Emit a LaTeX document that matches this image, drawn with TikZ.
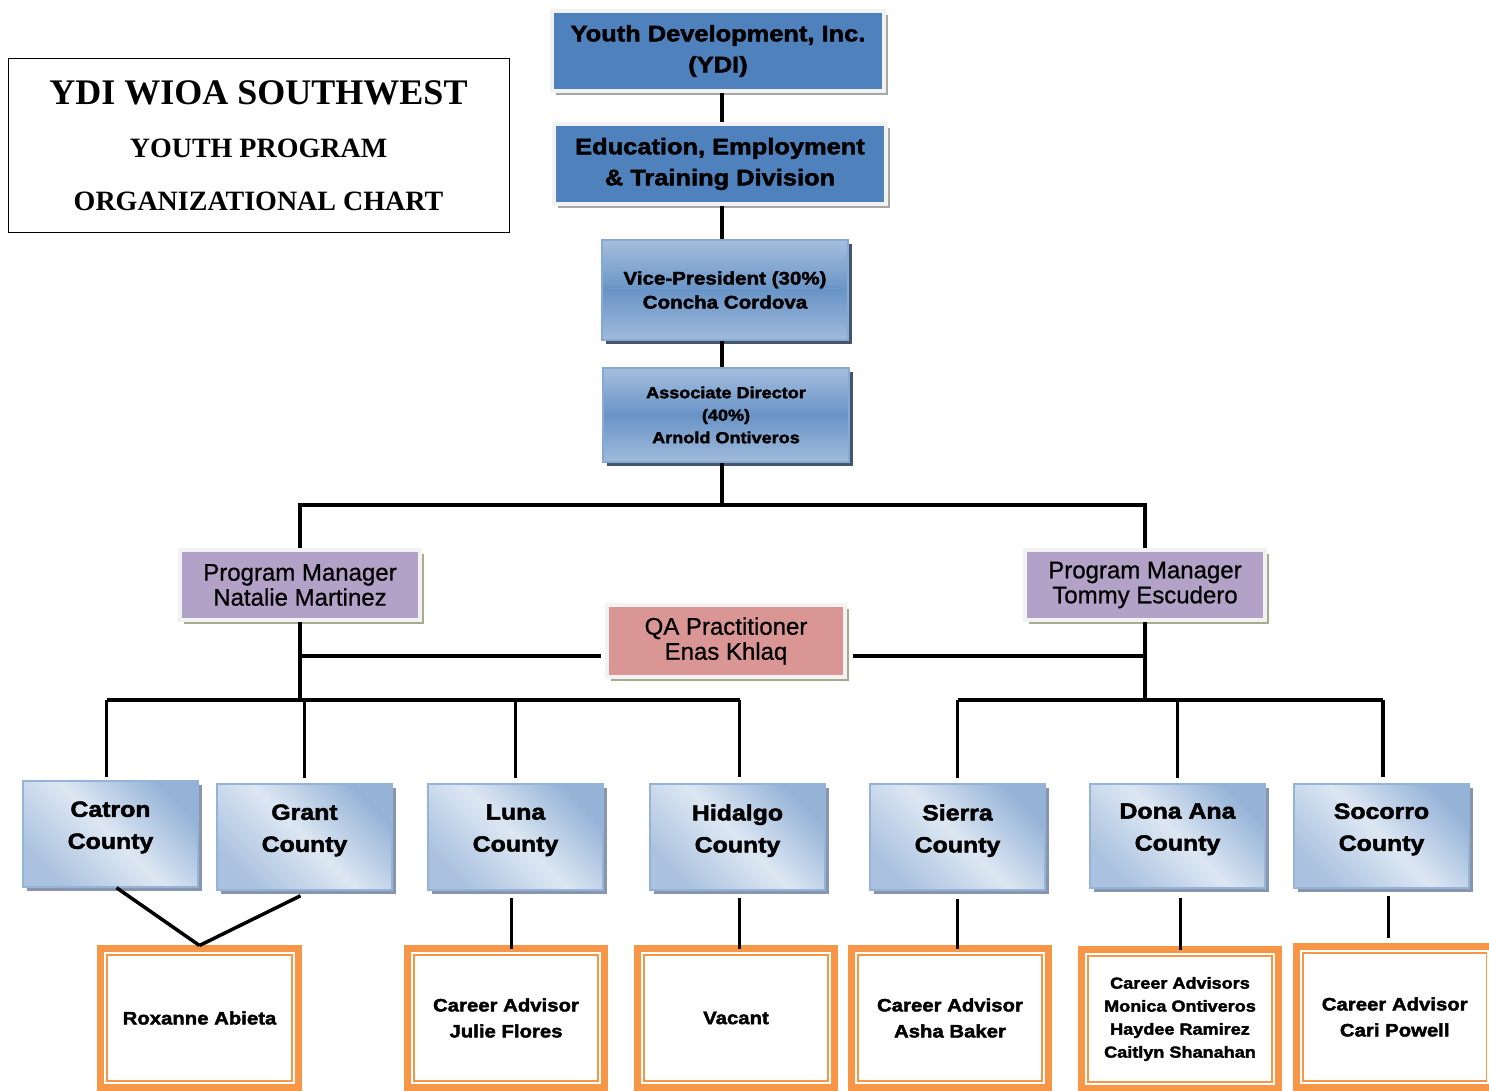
\documentclass[tikz,border=0pt]{standalone}
\usepackage{fontspec}
\setmainfont{Liberation Sans}
\newfontfamily\blk[FakeStretch=1.13,FakeBold=2.2]{Liberation Sans Bold}
\newfontfamily\pmf[FakeBold=0.8]{Liberation Sans}
\newfontfamily\tms{Liberation Serif}
\usetikzlibrary{shadows,calc}
\definecolor{ydiblue}{HTML}{4F81BD}
\definecolor{lblue}{HTML}{95B3D7}
\definecolor{vlblue}{HTML}{DDE7F3}
\definecolor{purp}{HTML}{B2A2C7}
\definecolor{pinkc}{HTML}{D99694}
\definecolor{orgc}{HTML}{F79646}
\definecolor{shadc}{HTML}{8796AC}
\definecolor{darkshad}{HTML}{44556E}
\definecolor{greenshad}{HTML}{A7AC90}
\definecolor{frame}{HTML}{F2F2F2}
\begin{document}
\begin{tikzpicture}[x=1pt,y=-1pt,
  conn/.style={line width=3.5pt, black},
  topbox/.style={draw=frame, line width=4pt, fill=ydiblue, inner sep=0pt,
    minimum width=332pt, minimum height=80pt, align=center,
    font=\blk\fontsize{22.5}{31}\selectfont,
    drop shadow={shadow xshift=4pt, shadow yshift=-4pt, fill=gray!70, opacity=1}},
  midbox/.style={draw=lblue!80!ydiblue, line width=1.5pt, top color=lblue!85!white,
    bottom color=lblue!90!white, middle color=ydiblue!85!white, inner sep=0pt,
    minimum width=246pt, align=center,
    drop shadow={shadow xshift=4pt, shadow yshift=-4pt, fill=darkshad, opacity=1}},
  pmbox/.style={draw=frame, line width=4pt, inner sep=0pt, minimum width=240pt,
    minimum height=70pt, align=center, font=\pmf\fontsize{24}{25}\selectfont,
    drop shadow={shadow xshift=4pt, shadow yshift=-4pt, fill=greenshad, opacity=1}},
  cbox/.style={draw=lblue, line width=1.5pt, top color=lblue, 
    bottom color=lblue!80!white, middle color=vlblue, shading angle=-45, inner sep=0pt,
    minimum width=175pt, minimum height=106pt,
    drop shadow={shadow xshift=4pt, shadow yshift=-4pt, fill=shadc, opacity=1}},
  clbl/.style={anchor=north, yshift=-21pt, inner sep=0pt, align=center,
    font=\blk\fontsize{22}{32}\selectfont},
  obox/.style={draw=orgc, line width=7pt, fill=white, inner sep=0pt, outer sep=0pt,
    minimum width=198pt, minimum height=139pt, align=center,
    font=\blk\fontsize{18}{26}\selectfont}
]
\useasboundingbox (0,0) rectangle (1489,1091);
\fill[white] (0,0) rectangle (1489,1091);

% title
\node[draw, line width=1pt, minimum width=501pt, minimum height=174pt, inner sep=0pt,
  align=center, font=\tms\bfseries\fontsize{28}{53}\selectfont] (title) at (258.5,146)
  {{\fontsize{36}{53}\selectfont YDI WIOA SOUTHWEST}\\YOUTH PROGRAM\\ORGANIZATIONAL CHART};

% top chain
\node[topbox] (ydi) at (718,51) {Youth Development, Inc.\\(YDI)};
\node[topbox] (eet) at (720,164) {Education, Employment\\\& Training Division};
\node[midbox, minimum height=100pt, font=\blk\fontsize{18.2}{24}\selectfont] (vp) at (725,290)
  {Vice-President (30\%)\\Concha Cordova};
\node[midbox, minimum height=94pt, font=\blk\fontsize{16}{22.5}\selectfont] (ad) at (726,415)
  {Associate Director\\(40\%)\\Arnold Ontiveros};

% managers
\node[pmbox, fill=purp] (pm1) at (300,585) {Program Manager\\Natalie Martinez};
\node[pmbox, fill=purp] (pm2) at (1145,585) {Program Manager\\Tommy Escudero};
\node[pmbox, fill=pinkc, minimum width=238pt, minimum height=72pt] (qa) at (726,641)
  {QA Practitioner\\Enas Khlaq};

% counties
\node[cbox, minimum height=106pt, label={[clbl, name=catl]north:Catron\\County}] (cat) at (110.5,834) {};
\node[cbox, label={[clbl, name=grl]north:Grant\\County}] (gra) at (304.5,837) {};
\node[cbox, label={[clbl, name=lul]north:Luna\\County}] (lun) at (515.5,837) {};
\node[cbox, label={[clbl, name=hil]north:Hidalgo\\County}] (hid) at (737.5,837) {};
\node[cbox, label={[clbl, name=sil]north:Sierra\\County}] (sie) at (957.5,837) {};
\node[cbox, minimum height=104pt, label={[clbl, yshift=1pt, name=dol]north:Dona Ana\\County}] (don) at (1177.5,836) {};
\node[cbox, minimum height=104pt, label={[clbl, yshift=1pt, name=sol]north:Socorro\\County}] (soc) at (1381.5,836) {};

% bottom boxes
\node[obox] (rox) at (199.5,1018) {Roxanne Abieta};
\node[obox, minimum width=197pt] (jul) at (506,1018) {Career Advisor\\Julie Flores};
\node[obox, minimum width=197pt] (vac) at (736,1018) {Vacant};
\node[obox, minimum width=197pt] (ash) at (950,1018) {Career Advisor\\Asha Baker};
\node[obox, minimum width=197pt, font=\blk\fontsize{16}{23}\selectfont] (dna) at (1180,1019)
  {Career Advisors\\Monica Ontiveros\\Haydee Ramirez\\Caitlyn Shanahan};
\node[obox, minimum width=196.5pt, minimum height=141pt] (car) at (1394.75,1017)
  {Career Advisor\\Cari Powell};
\foreach \n in {rox,jul,vac,ash,dna,car}
  \draw[orgc, line width=1.5pt] ([xshift=6.5pt,yshift=-6.5pt]\n.north west)
     rectangle ([xshift=-6.5pt,yshift=6.5pt]\n.south east);

% connectors
\coordinate (trunk) at (722,0);
\coordinate (jl) at (300,505);
\coordinate (jr) at (1145,505);
\coordinate (lb) at (0,700);
\coordinate (qy) at (0,656);
\draw[conn] (ydi.south -| trunk) -- (eet.north -| trunk);
\draw[conn] (eet.south -| trunk) -- (vp.north -| trunk);
\draw[conn] (vp.south -| trunk) -- (ad.north -| trunk);
\draw[conn] (ad.south -| trunk) -- (trunk |- jl);
\draw[conn] (pm1.north) -- (jl) -- (jr) -- (pm2.north);
\draw[conn] (pm1.south) -- (pm1.south |- lb);
\draw[conn] (pm2.south) -- (pm2.south |- lb);
\draw[conn] (pm1.south |- qy) -- ([xshift=-4pt]qa.west |- qy);
\draw[conn] ([xshift=6pt]qa.east |- qy) -- (pm2.south |- qy);
\draw[conn] ([xshift=-4pt]cat.north |- lb) -- ([xshift=2pt]hid.north |- lb);
\draw[conn] (sie.north |- lb) -- ([xshift=1.5pt]soc.north |- lb);
\draw[conn] ([xshift=-4pt]cat.north |- lb) -- ([xshift=-4pt,yshift=3pt]cat.north);
\draw[conn] ([xshift=2pt]hid.north |- lb) -- ([xshift=2pt,yshift=6pt]hid.north);
\draw[conn] ([xshift=1.5pt]soc.north |- lb) -- ([xshift=1.5pt,yshift=6pt]soc.north);
\foreach \c in {gra,lun,sie,don}
  \draw[conn] (\c.north |- lb) -- ([yshift=5pt]\c.north);
\draw[conn] ([xshift=6pt]cat.south) -- ([yshift=3pt]rox.north);
\draw[conn] ([xshift=-4pt,yshift=-5pt]gra.south) -- ([yshift=3pt]rox.north);
\draw[conn] ([xshift=-4pt,yshift=-7pt]lun.south) -- ([xshift=-4pt]lun.south |- jul.north);
\draw[conn] ([xshift=2pt,yshift=-7pt]hid.south) -- ([xshift=2pt]hid.south |- vac.north);
\draw[conn] ([yshift=-8pt]sie.south) -- (sie.south |- ash.north);
\draw[conn] ([xshift=3pt,yshift=-9pt]don.south) -- ([xshift=3pt]don.south |- dna.north);
\draw[conn] ([xshift=7pt,yshift=-7pt]soc.south) -- ([xshift=7pt,yshift=9pt]soc.south |- car.north);
\end{tikzpicture}
\end{document}
